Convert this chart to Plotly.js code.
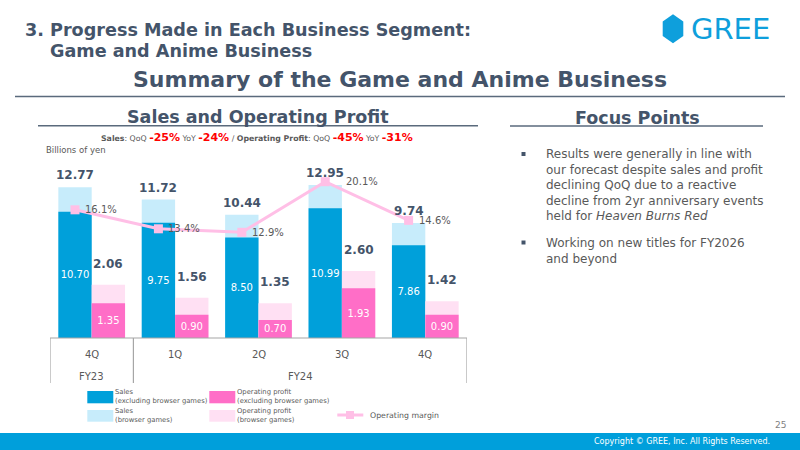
<!DOCTYPE html>
<html>
<head>
<meta charset="utf-8">
<script src="https://cdn.plot.ly/plotly-3.0.1.min.js"></script>
<style>
  html, body { margin: 0; padding: 0; background: #ffffff; }
  #slide { width: 800px; height: 450px; }
</style>
</head>
<body>
<div id="slide"></div>
<script>
// Quarterly figures for the Game and Anime Business (billions of yen, margin in %)
const quarters = ['4Q', '1Q', '2Q', '3Q', '4Q'];
const fiscalYears = ['FY23', 'FY24', 'FY24', 'FY24', 'FY24'];
const salesTotal = [12.77, 11.72, 10.44, 12.95, 9.74];
const salesExBrowser = [10.70, 9.75, 8.50, 10.99, 7.86];
const profitTotal = [2.06, 1.56, 1.35, 2.60, 1.42];
const profitExBrowser = [1.35, 0.90, 0.70, 1.93, 0.90];
const opMargin = [16.1, 13.4, 12.9, 20.1, 14.6];

const FONT = 'DejaVu Sans, Verdana, sans-serif';
const SLATE = '#44546A';
const GREY = '#595959';
const C_SALES = '#00A0DA';
const C_SALES_LT = '#C7ECFB';
const C_OP = '#FF6EC7';
const C_OP_LT = '#FFE0F3';
const C_MARGIN = '#FFBFE6';
const BRAND = '#0E9FDC';

// Plot area in page pixels
const L = 50, R = 467, T = 150, B = 338;
const W = R - L, H = B - T;
const px = p => (p - L) / W;
const py = p => (B - p) / H;

// axis scales (pixels per unit)
const SALES_PX = 11.81, PROFIT_PX = 25.8, MARGIN_PX = 7.03, MARGIN_ZERO = 323;
const Y3_RANGE = [-(B - MARGIN_ZERO) / MARGIN_PX, (MARGIN_ZERO - T) / MARGIN_PX];

const idx = quarters.map((_, i) => i);
const fmt = v => v.toFixed(2);
const inside = { textposition: 'inside', insidetextanchor: 'middle', textangle: 0,
  constraintext: 'none', textfont: { family: FONT, size: 10, color: '#ffffff' } };

const traces = [
  { type: 'bar', name: 'Sales (browser games)', x: idx, y: salesTotal,
    offset: -0.4, width: 0.4, marker: { color: C_SALES_LT }, yaxis: 'y', hoverinfo: 'y' },
  Object.assign({ type: 'bar', name: 'Sales (excluding browser games)', x: idx, y: salesExBrowser,
    offset: -0.4, width: 0.4, marker: { color: C_SALES }, yaxis: 'y',
    text: salesExBrowser.map(fmt), hoverinfo: 'y' }, inside),
  { type: 'bar', name: 'Operating profit (browser games)', x: idx, y: profitTotal,
    offset: 0, width: 0.4, marker: { color: C_OP_LT }, yaxis: 'y2', hoverinfo: 'y' },
  Object.assign({ type: 'bar', name: 'Operating profit (excluding browser games)', x: idx, y: profitExBrowser,
    offset: 0, width: 0.4, marker: { color: C_OP }, yaxis: 'y2',
    text: profitExBrowser.map(fmt), hoverinfo: 'y' }, inside),
  { type: 'scatter', name: 'Operating margin', x: idx.map(i => i - 0.2), y: opMargin, yaxis: 'y3',
    mode: 'lines+markers', cliponaxis: false,
    line: { color: C_MARGIN, width: 3 },
    marker: { symbol: 'square', size: 9, color: C_MARGIN }, hoverinfo: 'y' }
];

const shapes = [];
const annotations = [];

function note(text, xPx, yPx, size, opts) {
  annotations.push(Object.assign({
    xref: 'paper', yref: 'paper', x: px(xPx), y: py(yPx), text: text,
    showarrow: false, xanchor: 'center', yanchor: 'middle',
    font: { family: FONT, size: size, color: GREY }
  }, opts || {}));
}
function rectPx(x0, y0, x1, y1, color, layer) {
  shapes.push({ type: 'rect', xref: 'paper', yref: 'paper',
    x0: px(x0), x1: px(x1), y0: py(y1), y1: py(y0),
    line: { width: 0 }, fillcolor: color, layer: layer || 'above' });
}
function linePx(x0, y0, x1, y1, color, width) {
  shapes.push({ type: 'line', xref: 'paper', yref: 'paper',
    x0: px(x0), x1: px(x1), y0: py(y0), y1: py(y1),
    line: { color: color, width: width } });
}

// ---- Slide header ----
note('<b>3. Progress Made in Each Business Segment:</b>', 23, 30.5, 17.6, { xanchor: 'left', font: { family: FONT, size: 17.6, color: SLATE } });
note('<b>Game and Anime Business</b>', 48, 51.5, 17.6, { xanchor: 'left', font: { family: FONT, size: 17.6, color: SLATE } });
note('<b>Summary of the Game and Anime Business</b>', 400, 79, 22, { font: { family: FONT, size: 22, color: SLATE } });
linePx(15, 96.5, 785, 96.5, '#5A6A7C', 1.5);

// Brand mark
const hex = [[673, 14.3], [683.3, 21.6], [683.3, 36], [673, 43.3], [662.7, 36], [662.7, 21.6]];
shapes.push({ type: 'path', xref: 'paper', yref: 'paper',
  path: 'M' + hex.map(p => px(p[0]) + ',' + py(p[1])).join('L') + 'Z',
  fillcolor: BRAND, line: { width: 0 } });
note('GREE', 689, 29, 29, { xanchor: 'left', font: { family: FONT, size: 29, color: BRAND } });

// ---- Section headings ----
note('<b>Sales and Operating Profit</b>', 258, 116.5, 17.5, { font: { family: FONT, size: 17.5, color: SLATE } });
linePx(38, 125.8, 478, 125.8, '#5A6A7C', 1.5);
note('<b>Focus Points</b>', 637, 117.5, 17.5, { font: { family: FONT, size: 17.5, color: SLATE } });
linePx(510, 126, 763, 126, '#5A6A7C', 1.5);

const red = s => '<b><span style="color:#FF0000;font-size:11px">' + s + '</span></b>';
note('<b>Sales</b>: QoQ ' + red('-25%') + ' YoY ' + red('-24%') + ' / <b>Operating Profit</b>: QoQ ' +
     red('-45%') + ' YoY ' + red('-31%'), 257, 137.7, 7.8);
note('Billions of yen', 44, 150, 8.5, { xanchor: 'left' });

// ---- Value labels: bar totals and operating margin ----
idx.forEach(i => {
  annotations.push({ xref: 'x', yref: 'y', x: i - 0.2, y: salesTotal[i], yanchor: 'bottom', yshift: 3,
    text: '<b>' + fmt(salesTotal[i]) + '</b>', showarrow: false,
    font: { family: FONT, size: 12, color: SLATE } });
  annotations.push({ xref: 'x', yref: 'y2', x: i + 0.2, y: profitTotal[i], yanchor: 'bottom', yshift: 12,
    text: '<b>' + fmt(profitTotal[i]) + '</b>', showarrow: false,
    font: { family: FONT, size: 12, color: SLATE } });
  // margin label sits right of its marker; pushed clear of the sales total when they share a row
  const markerY = MARGIN_ZERO - opMargin[i] * MARGIN_PX;
  const totalY = B - salesTotal[i] * SALES_PX - 10;
  const shift = Math.abs(markerY - totalY) < 7 ? 19 : 8;
  annotations.push({ xref: 'x', yref: 'y3', x: i - 0.2, y: opMargin[i], xanchor: 'left', yanchor: 'middle',
    xshift: shift, text: opMargin[i].toFixed(1) + '%', showarrow: false,
    font: { family: FONT, size: 10, color: GREY } });
});

// ---- Category table under the plot ----
const TABLE_LINE = '#A6A6A6';
shapes.push({ type: 'line', xref: 'paper', yref: 'paper', x0: 0, x1: 1, y0: 0, y1: 0,
  line: { color: TABLE_LINE, width: 1.2 } });
[-0.5, 4.5].forEach(xv => shapes.push({ type: 'line', xref: 'x', yref: 'paper',
  x0: xv, x1: xv, y0: 0, y1: py(383), line: { color: TABLE_LINE, width: 1.2 } }));
idx.forEach(i => annotations.push({ xref: 'x', yref: 'paper', x: i, y: py(354),
  text: quarters[i], showarrow: false, yanchor: 'middle', font: { family: FONT, size: 10, color: GREY } }));

// group consecutive quarters by fiscal year
let start = 0;
for (let i = 1; i <= fiscalYears.length; i++) {
  if (i === fiscalYears.length || fiscalYears[i] !== fiscalYears[start]) {
    annotations.push({ xref: 'x', yref: 'paper', x: (start + i - 1) / 2, y: py(376.7),
      text: fiscalYears[start], showarrow: false, yanchor: 'middle',
      font: { family: FONT, size: 10, color: GREY } });
    if (i < fiscalYears.length) {
      shapes.push({ type: 'line', xref: 'x', yref: 'paper', x0: i - 0.5, x1: i - 0.5,
        y0: 0, y1: py(383), line: { color: TABLE_LINE, width: 1.2 } });
    }
    start = i;
  }
}

// ---- Legend ----
const LEG = 6.8;
rectPx(87.3, 391, 113.3, 403.3, C_SALES);
note('Sales<br>(excluding browser games)', 113, 396.5, LEG, { xanchor: 'left', align: 'left' });
rectPx(209.3, 391, 235.3, 403.3, C_OP);
note('Operating profit<br>(excluding browser games)', 235, 396.5, LEG, { xanchor: 'left', align: 'left' });
rectPx(87.3, 410, 113.3, 421.7, C_SALES_LT);
note('Sales<br>(browser games)', 113, 415.8, LEG, { xanchor: 'left', align: 'left' });
rectPx(209.3, 410, 235.3, 421.7, C_OP_LT);
note('Operating profit<br>(browser games)', 235, 415.8, LEG, { xanchor: 'left', align: 'left' });
linePx(337.3, 415, 363.3, 415, C_MARGIN, 3);
rectPx(346, 411, 354, 419, C_MARGIN);
note('Operating margin', 367.5, 415, 7.8, { xanchor: 'left' });

// ---- Focus points ----
const bulletColor = '#44546A';
rectPx(521.5, 152, 525.5, 156, bulletColor);
rectPx(521.5, 240.5, 525.5, 244.5, bulletColor);
note('Results were generally in line with<br>our forecast despite sales and profit<br>' +
     'declining QoQ due to a reactive<br>decline from 2yr anniversary events<br>held for <i>Heaven Burns Red</i>',
     544, 144.5, 12, { xanchor: 'left', yanchor: 'top', align: 'left' });
note('Working on new titles for FY2026<br>and beyond', 544, 233.5, 12,
     { xanchor: 'left', yanchor: 'top', align: 'left' });

// ---- Footer ----
rectPx(0, 433, 800, 450, '#009FDB', 'below');
note('Copyright \u00A9 GREE, Inc. All Rights Reserved.', 772, 441.5, 8,
     { xanchor: 'right', font: { family: FONT, size: 8, color: '#ffffff' } });
note('25', 788, 424.5, 9, { xanchor: 'right', font: { family: FONT, size: 9, color: '#7F7F7F' } });

const layout = {
  width: 800, height: 450,
  margin: { l: L, r: 800 - R, t: T, b: 450 - B, pad: 0 },
  paper_bgcolor: '#ffffff', plot_bgcolor: 'rgba(0,0,0,0)',
  barmode: 'overlay', showlegend: false,
  font: { family: FONT, color: GREY },
  xaxis: { range: [-0.5, 4.5], visible: false, fixedrange: true },
  yaxis: { range: [0, H / SALES_PX], visible: false, fixedrange: true },
  yaxis2: { range: [0, H / PROFIT_PX], overlaying: 'y', visible: false, fixedrange: true },
  yaxis3: { range: Y3_RANGE, overlaying: 'y', visible: false, fixedrange: true },
  shapes: shapes,
  annotations: annotations
};

Plotly.newPlot('slide', traces, layout, { displayModeBar: false, staticPlot: true });
</script>
</body>
</html>
